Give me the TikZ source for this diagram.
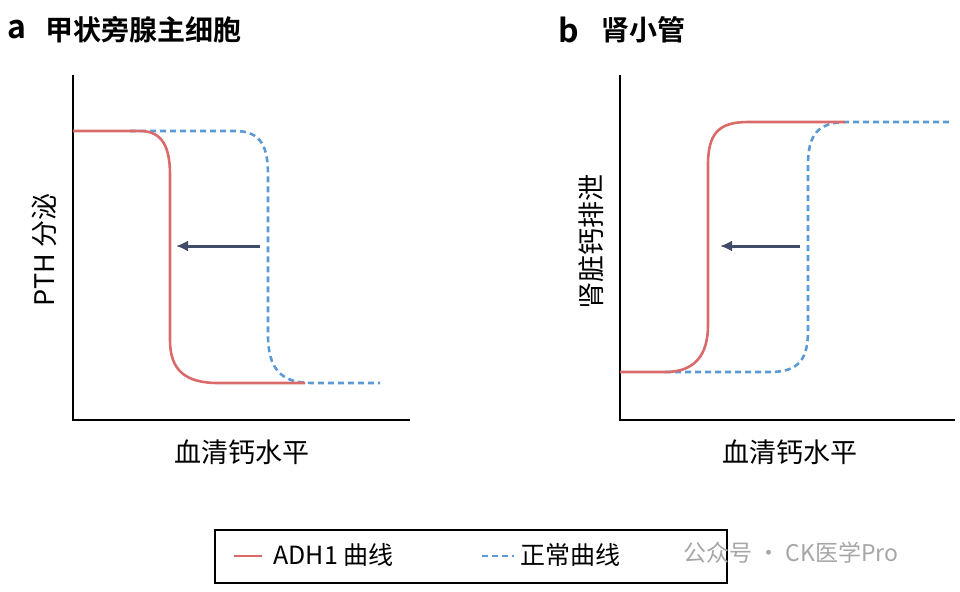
\documentclass[tikz,border=0pt]{standalone}
\usepackage{fontspec}
\usetikzlibrary{arrows.meta}
\setmainfont[BoldFont={Noto Sans CJK SC Bold}]{Noto Sans CJK SC}
\definecolor{redc}{HTML}{DB6B6B}
\definecolor{bluec}{HTML}{5B9BD5}
\definecolor{navy}{HTML}{3E4B69}
\begin{document}
\begin{tikzpicture}[x=1pt,y=-1pt,
  axis/.style={line width=1.2pt,black},
  adh/.style={line width=2.6pt,redc},
  norm/.style={line width=2.6pt,bluec,dash pattern=on 6pt off 4pt},
  shiftarrow/.style={line width=3pt,navy,-{Latex[length=12pt,width=11pt]}},
  lbl/.style={font=\fontsize{27}{30}\selectfont},
  ttl/.style={font=\fontsize{28}{32}\selectfont\bfseries}]
\useasboundingbox (0,0) rectangle (960,591);
% panel a
\node[ttl,anchor=west,font=\fontsize{32}{34}\selectfont\bfseries] (ta) at (4,30) {a};
\node[ttl,anchor=west] (tat) at (42,30) {甲状旁腺主细胞};
\draw[axis] (73,75) -- (73,420) -- (410,420);
\draw[norm] (130,131) -- (235,131) .. controls (262,131) and (268,148) .. (268,175) -- (268,335) .. controls (268,370) and (282,383) .. (312,383) -- (380,383);
\draw[adh] (73,131) -- (140,131) .. controls (163,131) and (170,148) .. (170,175) -- (170,340) .. controls (170,370) and (185,383) .. (218,383) -- (305,383);
\coordinate (a1) at (260,246); \coordinate (a2) at (176,246);
\draw[shiftarrow] (a1) -- (a2);
\node[lbl,rotate=90] (ya) at (44,250) {PTH 分泌};
\node[lbl] (xa) at (242,452) {血清钙水平};
% panel b
\node[ttl,anchor=west,font=\fontsize{32}{34}\selectfont\bfseries] (tb) at (555,30) {b};
\node[ttl,anchor=west] (tbt) at (598,30) {肾小管};
\draw[axis] (620,75) -- (620,420) -- (955,420);
\draw[norm] (665,372) -- (770,372) .. controls (800,372) and (808,358) .. (808,330) -- (808,165) .. controls (808,134) and (818,122) .. (848,122) -- (950,122);
\draw[adh] (620,372) -- (665,372) .. controls (695,372) and (708,355) .. (708,325) -- (708,165) .. controls (708,134) and (718,122) .. (748,122) -- (845,122);
\coordinate (b1) at (800,246); \coordinate (b2) at (720,246);
\draw[shiftarrow] (b1) -- (b2);
\node[lbl,rotate=90] (yb) at (591,242) {肾脏钙排泄};
\node[lbl] (xb) at (790,452) {血清钙水平};
% legend
\node[draw,line width=1.2pt,minimum width=512pt,minimum height=53pt] (leg) at (471,556.5) {};
\coordinate (l1) at (234,556); \coordinate (l2) at (262,556);
\draw[adh] (l1) -- (l2);
\node[lbl,anchor=west,font=\fontsize{25}{30}\selectfont] (lt1) at (270,555) {ADH1 曲线};
\coordinate (l3) at (482,556); \coordinate (l4) at (514,556);
\draw[norm] (l3) -- (l4);
\node[lbl,anchor=west,font=\fontsize{25}{30}\selectfont] (lt2) at (517,555) {正常曲线};
\node[anchor=west,text=black!35,font=\fontsize{23}{26}\selectfont] (wm) at (680,553) {公众号 · CK医学Pro};
\end{tikzpicture}
\end{document}
